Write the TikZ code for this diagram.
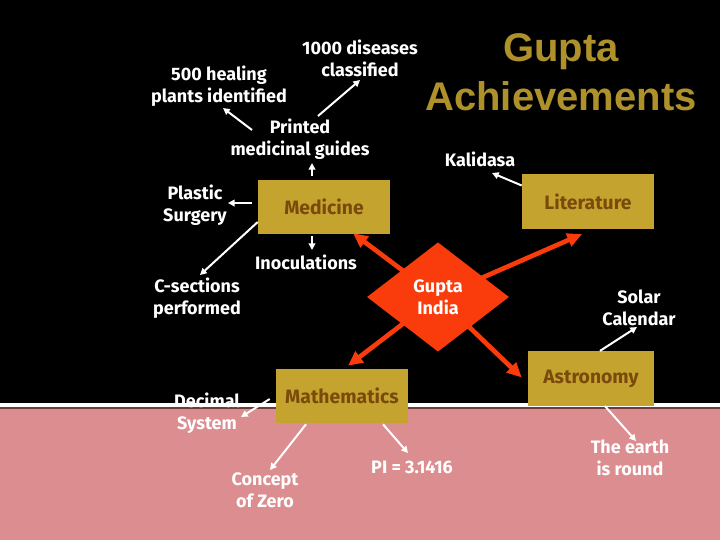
\documentclass[tikz,border=0pt]{standalone}
\usepackage{fontspec}
\setmainfont{Fira Sans}
\newfontfamily\titlefont{Liberation Sans}
\usetikzlibrary{shapes.geometric,arrows.meta}
\definecolor{goldbox}{HTML}{C4A42F}
\definecolor{boxtext}{HTML}{7A4A0C}
\definecolor{titlegold}{HTML}{AE912A}
\definecolor{guptared}{HTML}{FA3C0C}
\definecolor{pinkbg}{HTML}{DB8D8F}
\definecolor{edgeline}{HTML}{6E3A3A}
\tikzset{
  goldnode/.style={fill=goldbox, text=boxtext, inner sep=0pt, minimum height=40.5pt,
    font=\bfseries\fontsize{14.5}{17}\selectfont},
  wlabel/.style={text=white, align=center, inner sep=0pt,
    font=\bfseries\fontsize{13.5}{16.5}\selectfont},
  warr/.style={draw=white, line width=1.5pt, -{Triangle[length=5pt,width=5pt]}},
  rarr/.style={draw=guptared, line width=3.5pt, -{Triangle[length=11pt,width=10pt]}}
}
\begin{document}
\begin{tikzpicture}[x=0.75pt,y=-0.75pt]
\useasboundingbox (0,0) rectangle (720,540);
\fill[black] (0,0) rectangle (720,404);
\fill[white] (0,403) rectangle (720,407);
\fill[edgeline] (0,407) rectangle (720,408.5);
\fill[pinkbg] (0,408.5) rectangle (720,540);

% title
\node[text=titlegold, align=center, inner sep=0pt,
  font=\titlefont\bfseries\fontsize{30}{37}\selectfont] (title) at (561,72) {Gupta\\Achievements};

% boxes
\node[goldnode, minimum width=99pt] (med) at (324,207) {Medicine};
\node[goldnode, minimum width=99pt, minimum height=41pt] (lit) at (588,201.5) {Literature};
\node[goldnode, minimum width=99pt] (math) at (342,396) {Mathematics};
\node[goldnode, minimum width=94.5pt, minimum height=41pt] (astro) at (591,378.5) {Astronomy};

% red arrows from diamond
\coordinate (gic) at (438,297);
\draw[rarr] (gic) -- ([shift={(29,-1)}]med.south);
\draw[rarr] (gic) -- ([shift={(-6,5)}]lit.south);
\draw[rarr] (gic) -- ([shift={(6,-3)}]math.north);
\draw[rarr] (gic) -- ([shift={(-6,-1)}]astro.west);

% diamond
\node[diamond, fill=guptared, text=white, inner sep=0pt, minimum width=106.5pt,
  minimum height=82pt, align=center, font=\bfseries\fontsize{13.5}{16.5}\selectfont] (gi) at (gic) {Gupta\\India};

% white labels
\node[wlabel] (diseases) at (360,58) {1000 diseases\\classified};
\node[wlabel] (healing) at (219,86) {500 healing\\plants identified};
\node[wlabel] (printed) at (300,139) {Printed\\medicinal guides};
\node[wlabel] (plastic) at (195,205) {Plastic\\Surgery};
\node[wlabel] (inoc) at (306,262) {Inoculations};
\node[wlabel] (csec) at (197,298) {C-sections\\performed};
\node[wlabel] (kalidasa) at (480,159) {Kalidasa};
\node[wlabel] (solar) at (639,308) {Solar\\Calendar};
\node[wlabel] (decimal) at (207,413) {Decimal\\System};
\node[wlabel] (zero) at (265,490) {Concept\\of Zero};
\node[wlabel] (pi) at (412,467) {PI = 3.1416};
\node[wlabel] (earth) at (630,458) {The earth\\is round};

% white arrows
\draw[warr] ([shift={(-48,-9)}]printed.center) -- ([shift={(4,22)}]healing.center);
\draw[warr] ([shift={(18,-23)}]printed.center) -- ([shift={(0,22)}]diseases.center);
\draw[warr] ([shift={(-12,-4)}]med.north) -- ([shift={(12,24)}]printed.center);
\draw[warr] ([shift={(-6,-4)}]med.west) -- ([shift={(33,-2)}]plastic.center);
\draw[warr] ([shift={(0,15)}]med.west) -- ([shift={(3,-23)}]csec.center);
\draw[warr] ([shift={(-12,2)}]med.south) -- ([shift={(6,-12)}]inoc.center);
\draw[warr] ([shift={(0,-16)}]lit.west) -- ([shift={(12,14)}]kalidasa.center);
\draw[warr] ([shift={(9,0)}]astro.north) -- ([shift={(-2,19)}]solar.center);
\draw[warr] ([shift={(14,0)}]astro.south) -- ([shift={(6,-17)}]earth.center);
\draw[warr] ([shift={(-6,3)}]math.west) -- ([shift={(34,4)}]decimal.center);
\draw[warr] ([shift={(-36,1)}]math.south) -- ([shift={(5,-20)}]zero.center);
\draw[warr] ([shift={(41,1)}]math.south) -- ([shift={(-4,-14)}]pi.center);
\end{tikzpicture}
\end{document}
